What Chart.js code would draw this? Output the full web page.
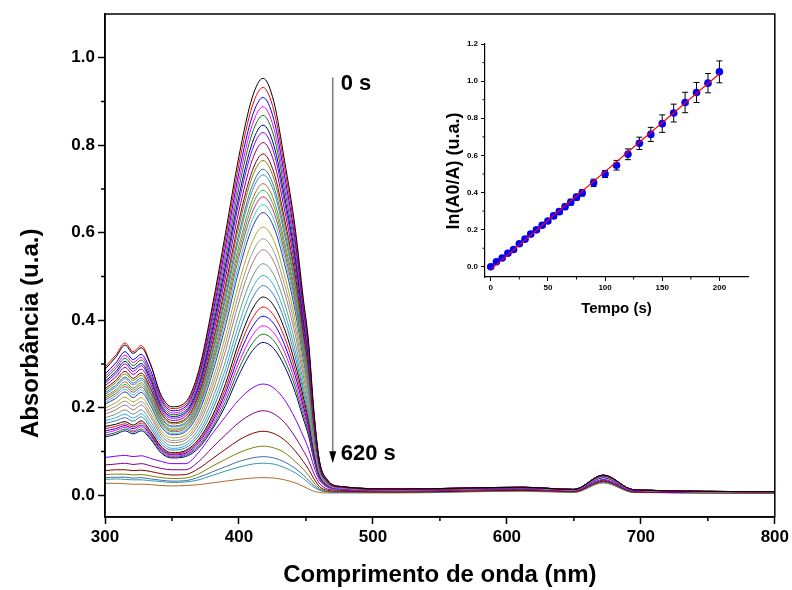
<!DOCTYPE html>
<html lang="pt">
<head>
<meta charset="UTF-8">
<title>Absorbância – cinética</title>
<script src="https://cdn.jsdelivr.net/npm/chart.js"></script>
<style>
  html, body { margin: 0; padding: 0; background: #fff; }
  #wrap { position: relative; width: 792px; height: 590px; }
  #mainChart { position: absolute; left: 0; top: 0; }
  #insetChart { position: absolute; left: 400px; top: 30px; }
</style>
</head>
<body>
<div id="wrap">
  <canvas id="mainChart" width="792" height="590"></canvas>
  <canvas id="insetChart" width="360" height="300"></canvas>
</div>
<script>
// comprimento de onda (nm) onde os espectros foram lidos
const wavelength = [300, 308, 315, 321, 327, 334, 342, 350, 360, 370, 380, 390, 400, 410, 418,
                    426, 434, 442, 448, 452, 456, 460, 466, 475, 520, 612, 650, 672, 695, 800];

// espectros, do 0 s (topo) ao 620 s (base)
const spectra = [
  [0.288,0.315,0.343,0.324,0.337,0.298,0.228,0.202,0.212,0.285,0.430,0.600,0.775,0.910,0.953,0.900,0.765,0.610,0.450,0.350,0.190,0.080,0.035,0.020,0.014,0.018,0.013,0.046,0.012,0.008],
  [0.293,0.320,0.348,0.328,0.342,0.300,0.223,0.198,0.207,0.278,0.420,0.586,0.757,0.890,0.932,0.880,0.749,0.597,0.441,0.342,0.186,0.079,0.035,0.020,0.014,0.018,0.013,0.046,0.012,0.008],
  [0.277,0.302,0.328,0.310,0.322,0.285,0.218,0.193,0.202,0.271,0.408,0.570,0.738,0.867,0.909,0.859,0.731,0.583,0.430,0.334,0.182,0.077,0.034,0.020,0.014,0.018,0.013,0.046,0.012,0.008],
  [0.271,0.295,0.320,0.303,0.315,0.278,0.213,0.188,0.198,0.265,0.398,0.555,0.720,0.847,0.888,0.839,0.715,0.570,0.421,0.327,0.178,0.076,0.033,0.019,0.014,0.018,0.013,0.045,0.012,0.008],
  [0.266,0.289,0.313,0.296,0.309,0.272,0.208,0.184,0.193,0.258,0.388,0.541,0.703,0.828,0.868,0.821,0.700,0.557,0.412,0.319,0.175,0.075,0.033,0.019,0.014,0.018,0.013,0.045,0.012,0.008],
  [0.260,0.282,0.306,0.289,0.301,0.266,0.203,0.180,0.189,0.251,0.377,0.526,0.684,0.806,0.846,0.800,0.683,0.544,0.402,0.312,0.171,0.073,0.032,0.019,0.014,0.018,0.013,0.045,0.012,0.008],
  [0.256,0.277,0.300,0.283,0.296,0.260,0.199,0.176,0.185,0.246,0.368,0.514,0.670,0.790,0.829,0.784,0.670,0.533,0.394,0.305,0.168,0.072,0.032,0.019,0.014,0.018,0.013,0.045,0.012,0.008],
  [0.250,0.270,0.292,0.276,0.288,0.253,0.194,0.171,0.180,0.239,0.357,0.499,0.650,0.767,0.806,0.763,0.652,0.519,0.384,0.297,0.164,0.071,0.031,0.019,0.013,0.017,0.013,0.045,0.012,0.008],
  [0.243,0.262,0.283,0.267,0.279,0.245,0.188,0.166,0.174,0.231,0.344,0.481,0.628,0.742,0.780,0.738,0.632,0.503,0.372,0.288,0.159,0.069,0.031,0.019,0.013,0.017,0.013,0.045,0.012,0.008],
  [0.239,0.257,0.277,0.262,0.274,0.241,0.184,0.163,0.171,0.226,0.336,0.470,0.615,0.728,0.765,0.724,0.620,0.493,0.365,0.282,0.156,0.068,0.030,0.018,0.013,0.017,0.013,0.044,0.012,0.008],
  [0.234,0.251,0.270,0.256,0.268,0.235,0.179,0.158,0.166,0.220,0.326,0.457,0.598,0.708,0.745,0.706,0.605,0.481,0.356,0.275,0.153,0.067,0.030,0.018,0.013,0.017,0.013,0.044,0.012,0.008],
  [0.230,0.247,0.266,0.252,0.263,0.231,0.176,0.156,0.163,0.216,0.320,0.448,0.587,0.696,0.732,0.694,0.595,0.473,0.351,0.270,0.150,0.066,0.030,0.018,0.013,0.017,0.013,0.044,0.012,0.008],
  [0.225,0.241,0.259,0.245,0.257,0.225,0.172,0.151,0.159,0.209,0.310,0.434,0.570,0.676,0.712,0.675,0.579,0.461,0.342,0.263,0.147,0.065,0.029,0.018,0.013,0.017,0.013,0.044,0.012,0.008],
  [0.221,0.237,0.253,0.240,0.252,0.220,0.168,0.148,0.156,0.205,0.302,0.423,0.557,0.662,0.697,0.661,0.568,0.451,0.335,0.258,0.144,0.064,0.029,0.018,0.013,0.017,0.012,0.044,0.012,0.008],
  [0.217,0.232,0.248,0.235,0.247,0.216,0.165,0.145,0.152,0.200,0.295,0.413,0.545,0.647,0.682,0.647,0.556,0.442,0.328,0.252,0.141,0.063,0.028,0.018,0.013,0.017,0.012,0.044,0.011,0.007],
  [0.212,0.227,0.242,0.229,0.241,0.210,0.160,0.141,0.148,0.194,0.286,0.401,0.529,0.630,0.664,0.630,0.543,0.431,0.320,0.246,0.138,0.062,0.028,0.018,0.013,0.017,0.012,0.044,0.011,0.007],
  [0.208,0.221,0.236,0.223,0.235,0.205,0.156,0.138,0.145,0.189,0.277,0.388,0.514,0.612,0.646,0.613,0.529,0.420,0.312,0.240,0.135,0.060,0.028,0.018,0.013,0.017,0.012,0.044,0.011,0.007],
  [0.199,0.211,0.224,0.213,0.223,0.195,0.148,0.131,0.137,0.178,0.260,0.365,0.486,0.580,0.613,0.582,0.503,0.399,0.297,0.228,0.129,0.058,0.027,0.017,0.013,0.017,0.012,0.043,0.011,0.007],
  [0.192,0.203,0.215,0.204,0.214,0.186,0.142,0.125,0.131,0.170,0.247,0.347,0.463,0.554,0.586,0.557,0.482,0.383,0.285,0.218,0.124,0.057,0.026,0.017,0.013,0.017,0.012,0.043,0.011,0.007],
  [0.185,0.195,0.206,0.195,0.206,0.179,0.136,0.120,0.126,0.162,0.234,0.330,0.442,0.530,0.561,0.534,0.463,0.367,0.274,0.209,0.119,0.055,0.026,0.017,0.012,0.016,0.012,0.043,0.011,0.007],
  [0.177,0.185,0.195,0.185,0.195,0.169,0.129,0.113,0.119,0.152,0.218,0.307,0.415,0.499,0.529,0.504,0.439,0.347,0.259,0.197,0.114,0.053,0.025,0.017,0.012,0.016,0.012,0.043,0.011,0.007],
  [0.170,0.177,0.185,0.176,0.186,0.161,0.123,0.107,0.113,0.143,0.205,0.289,0.392,0.473,0.502,0.479,0.418,0.330,0.247,0.188,0.109,0.051,0.024,0.016,0.012,0.016,0.012,0.042,0.011,0.007],
  [0.164,0.170,0.177,0.169,0.179,0.154,0.117,0.103,0.108,0.136,0.193,0.273,0.372,0.450,0.479,0.457,0.400,0.316,0.237,0.179,0.105,0.050,0.024,0.016,0.012,0.016,0.012,0.042,0.011,0.007],
  [0.157,0.162,0.168,0.160,0.170,0.146,0.111,0.097,0.102,0.128,0.180,0.255,0.350,0.425,0.453,0.433,0.380,0.300,0.225,0.170,0.100,0.048,0.023,0.016,0.012,0.016,0.012,0.042,0.011,0.007],
  [0.152,0.157,0.163,0.156,0.165,0.142,0.108,0.094,0.099,0.124,0.173,0.244,0.334,0.404,0.430,0.411,0.361,0.286,0.214,0.162,0.096,0.046,0.022,0.016,0.012,0.016,0.012,0.042,0.011,0.007],
  [0.147,0.152,0.159,0.152,0.160,0.138,0.105,0.092,0.096,0.120,0.167,0.234,0.319,0.385,0.409,0.392,0.344,0.273,0.204,0.155,0.092,0.045,0.022,0.016,0.012,0.016,0.012,0.041,0.011,0.007],
  [0.142,0.148,0.155,0.147,0.156,0.135,0.102,0.089,0.093,0.115,0.161,0.224,0.303,0.365,0.387,0.371,0.327,0.259,0.194,0.148,0.087,0.043,0.021,0.015,0.011,0.015,0.011,0.041,0.010,0.007],
  [0.137,0.143,0.151,0.144,0.151,0.131,0.099,0.087,0.091,0.112,0.155,0.214,0.289,0.347,0.368,0.353,0.310,0.247,0.184,0.141,0.084,0.041,0.021,0.015,0.011,0.015,0.011,0.040,0.010,0.007],
  [0.133,0.139,0.147,0.140,0.147,0.128,0.096,0.085,0.088,0.108,0.150,0.205,0.275,0.330,0.349,0.335,0.295,0.235,0.175,0.135,0.080,0.040,0.020,0.015,0.011,0.015,0.011,0.040,0.010,0.007],
  [0.086,0.089,0.091,0.088,0.090,0.084,0.077,0.072,0.072,0.098,0.140,0.180,0.218,0.245,0.254,0.245,0.218,0.175,0.135,0.105,0.065,0.035,0.018,0.013,0.010,0.014,0.010,0.036,0.009,0.006],
  [0.069,0.071,0.073,0.070,0.072,0.067,0.061,0.058,0.058,0.077,0.108,0.138,0.166,0.186,0.193,0.186,0.166,0.133,0.102,0.079,0.049,0.027,0.014,0.011,0.009,0.013,0.009,0.034,0.008,0.006],
  [0.056,0.058,0.058,0.056,0.057,0.054,0.049,0.046,0.047,0.061,0.083,0.105,0.126,0.141,0.146,0.141,0.126,0.101,0.077,0.059,0.037,0.020,0.011,0.009,0.007,0.011,0.008,0.032,0.007,0.005],
  [0.047,0.048,0.048,0.046,0.047,0.044,0.040,0.038,0.039,0.049,0.066,0.082,0.097,0.108,0.112,0.108,0.097,0.077,0.059,0.045,0.028,0.016,0.009,0.008,0.007,0.011,0.007,0.031,0.007,0.005],
  [0.040,0.041,0.041,0.039,0.040,0.037,0.034,0.032,0.033,0.041,0.053,0.065,0.077,0.085,0.088,0.085,0.076,0.061,0.046,0.034,0.022,0.013,0.008,0.007,0.006,0.010,0.007,0.030,0.007,0.005],
  [0.036,0.037,0.036,0.035,0.035,0.033,0.031,0.029,0.030,0.035,0.045,0.055,0.064,0.071,0.073,0.071,0.063,0.051,0.038,0.028,0.018,0.011,0.007,0.006,0.006,0.010,0.007,0.029,0.006,0.005],
  [0.027,0.027,0.026,0.025,0.025,0.024,0.022,0.021,0.022,0.024,0.028,0.032,0.036,0.039,0.040,0.039,0.035,0.028,0.020,0.014,0.009,0.006,0.005,0.005,0.005,0.009,0.006,0.028,0.006,0.005]
];

// paleta tipo Origin (repete depois da 23a curva)
const palette = ['#000000','#ff0000','#0000ff','#ff00ff','#008000','#000080','#8000ff','#800080',
                 '#800000','#808000','#3f6fa8','#3399aa','#b06a2a','#22bb44','#cc3366','#33cccc',
                 '#3333aa','#aaaa22','#999988','#aa7777','#669977','#33aadd','#4477aa'];

const xTicksMain = [300, 400, 500, 600, 700, 800];
const xMinorMain = [350, 450, 550, 650, 750];
const yTicksMain = [0, 0.2, 0.4, 0.6, 0.8, 1.0];
const yMinorMain = [0.1, 0.3, 0.5, 0.7, 0.9];

// seta 0 s -> 620 s
const arrowWave = 470;
const arrowTop = 0.955;
const arrowTip = 0.073;

// inset: ln(A0/A) x tempo
const tempo  = [0, 5, 10, 15, 20, 25, 30, 35, 40, 45, 50, 55, 60, 65, 70, 75, 80,
                90, 100, 110, 120, 130, 140, 150, 160, 170, 180, 190, 200];
const lnA0A  = [0, 0.027, 0.047, 0.073, 0.093, 0.124, 0.149, 0.176, 0.199, 0.224, 0.247, 0.274, 0.297,
                0.323, 0.348, 0.375, 0.398, 0.452, 0.500, 0.547, 0.606, 0.665, 0.713, 0.771, 0.828,
                0.885, 0.939, 0.989, 1.050];
const lnErr  = [0.004, 0.008, 0.008, 0.010, 0.010, 0.010, 0.011, 0.012, 0.012, 0.013, 0.013, 0.014, 0.014,
                0.015, 0.016, 0.016, 0.017, 0.020, 0.019, 0.026, 0.029, 0.033, 0.038, 0.047, 0.048,
                0.055, 0.054, 0.052, 0.059];
const fitTempo = [0, 200];
const fitLn    = [-0.014, 1.040];

const xTicksIn = [0, 50, 100, 150, 200];
const xMinorIn = [25, 75, 125, 175];
const yTicksIn = [0, 0.2, 0.4, 0.6, 0.8, 1.0, 1.2];
const yMinorIn = [0.1, 0.3, 0.5, 0.7, 0.9, 1.1];

const FONT = "'Liberation Sans', Arial, sans-serif";
Chart.defaults.font.family = FONT;
Chart.defaults.color = '#000';

const mainExtras = {
  id: 'mainExtras',
  afterDatasetsDraw(chart) {
    const { ctx, chartArea: a, scales: { x, y } } = chart;
    ctx.save();
    // moldura
    ctx.strokeStyle = '#000';
    ctx.lineWidth = 1.5;
    ctx.strokeRect(a.left, a.top, a.right - a.left, a.bottom - a.top);
    // ticks menores
    ctx.beginPath();
    xMinorMain.forEach(v => {
      const px = x.getPixelForValue(v);
      ctx.moveTo(px, a.bottom); ctx.lineTo(px, a.bottom + 4);
    });
    yMinorMain.forEach(v => {
      const py = y.getPixelForValue(v);
      ctx.moveTo(a.left, py); ctx.lineTo(a.left - 4, py);
    });
    ctx.stroke();

    // seta
    const ax = x.getPixelForValue(arrowWave);
    const y0 = y.getPixelForValue(arrowTop);
    const y1 = y.getPixelForValue(arrowTip);
    ctx.strokeStyle = '#808080';
    ctx.lineWidth = 1.6;
    ctx.beginPath();
    ctx.moveTo(ax, y0); ctx.lineTo(ax, y1 - 10);
    ctx.stroke();
    ctx.fillStyle = '#000';
    ctx.beginPath();
    ctx.moveTo(ax - 3.5, y1 - 12); ctx.lineTo(ax + 3.5, y1 - 12); ctx.lineTo(ax, y1);
    ctx.closePath();
    ctx.fill();

    ctx.font = "bold 22px " + FONT;
    ctx.textBaseline = 'middle';
    ctx.textAlign = 'left';
    ctx.fillText('0 s', x.getPixelForValue(476), y.getPixelForValue(0.94));
    ctx.fillText('620 s', x.getPixelForValue(476), y.getPixelForValue(0.094));

    // título do eixo y: no original fica abaixo do centro do eixo
    ctx.font = "bold 24px " + FONT;
    ctx.textAlign = 'center';
    ctx.translate(31, y.getPixelForValue(0.37));
    ctx.rotate(-Math.PI / 2);
    ctx.fillText('Absorbância (u.a.)', 0, 0);
    ctx.restore();
  }
};

new Chart(document.getElementById('mainChart'), {
  type: 'line',
  data: {
    datasets: spectra.map((s, i) => ({
      data: s.map((v, k) => ({ x: wavelength[k], y: v })),
      borderColor: palette[i % palette.length],
      borderWidth: 1,
      pointRadius: 0,
      cubicInterpolationMode: 'monotone',
      fill: false
    }))
  },
  options: {
    responsive: false,
    animation: false,
    devicePixelRatio: 1,
    layout: { padding: { top: 14, right: 16, left: 0, bottom: 0 } },
    plugins: { legend: { display: false }, tooltip: { enabled: false } },
    scales: {
      x: {
        type: 'linear', min: 300, max: 800,
        afterBuildTicks: s => { s.ticks = xTicksMain.map(v => ({ value: v })); },
        afterFit: s => { s.height = 73; },
        ticks: { autoSkip: false, maxRotation: 0, padding: 3, font: { size: 17, weight: 'bold' }, callback: v => String(v) },
        grid: { drawOnChartArea: false, tickLength: 7, tickWidth: 1.5, tickColor: '#000' },
        border: { display: true, color: '#000', width: 1.5 },
        title: { display: true, text: 'Comprimento de onda (nm)', font: { size: 24, weight: 'bold' }, padding: { top: 0, bottom: 0 } }
      },
      y: {
        type: 'linear', min: -0.05, max: 1.1,
        afterBuildTicks: s => { s.ticks = yTicksMain.map(v => ({ value: v })); },
        afterFit: s => { s.width = 105; },
        ticks: { padding: 3, font: { size: 17, weight: 'bold' }, callback: v => v.toFixed(1) },
        grid: { drawOnChartArea: false, tickLength: 7, tickWidth: 1.5, tickColor: '#000' },
        border: { display: true, color: '#000', width: 1.5 },
        title: { display: false }
      }
    }
  },
  plugins: [mainExtras]
});

const insetExtras = {
  id: 'insetExtras',
  beforeDatasetsDraw(chart) {
    const { ctx, scales: { x, y } } = chart;
    ctx.save();
    ctx.strokeStyle = '#000';
    ctx.lineWidth = 1;
    ctx.beginPath();
    tempo.forEach((t, i) => {
      const px = x.getPixelForValue(t);
      const top = y.getPixelForValue(lnA0A[i] + lnErr[i]);
      const bot = y.getPixelForValue(lnA0A[i] - lnErr[i]);
      ctx.moveTo(px, top); ctx.lineTo(px, bot);
      ctx.moveTo(px - 3, top); ctx.lineTo(px + 3, top);
      ctx.moveTo(px - 3, bot); ctx.lineTo(px + 3, bot);
    });
    ctx.stroke();
    ctx.restore();
  },
  afterDraw(chart) {
    const { ctx, chartArea: a, scales: { x, y } } = chart;
    ctx.save();
    ctx.strokeStyle = '#000';
    ctx.lineWidth = 1;
    ctx.beginPath();
    xMinorIn.forEach(v => {
      const px = x.getPixelForValue(v);
      ctx.moveTo(px, a.bottom); ctx.lineTo(px, a.bottom + 2.5);
    });
    yMinorIn.forEach(v => {
      const py = y.getPixelForValue(v);
      ctx.moveTo(a.left, py); ctx.lineTo(a.left - 2.5, py);
    });
    ctx.stroke();

    // título do eixo y do inset, um pouco abaixo do centro como no original
    ctx.font = "bold 18px " + FONT;
    ctx.textAlign = 'center';
    ctx.textBaseline = 'middle';
    ctx.translate(54, 141);
    ctx.rotate(-Math.PI / 2);
    ctx.fillText('ln(A0/A) (u.a.)', 0, 0);
    ctx.restore();
  }
};

new Chart(document.getElementById('insetChart'), {
  type: 'scatter',
  data: {
    datasets: [
      {
        type: 'line',
        data: fitTempo.map((t, i) => ({ x: t, y: fitLn[i] })),
        borderColor: '#ff0000',
        borderWidth: 1.2,
        pointRadius: 0,
        order: 0
      },
      {
        data: tempo.map((t, i) => ({ x: t, y: lnA0A[i] })),
        backgroundColor: '#0000ff',
        borderColor: '#0000ff',
        borderWidth: 0,
        pointRadius: 3.8,
        order: 1
      }
    ]
  },
  options: {
    responsive: false,
    animation: false,
    devicePixelRatio: 1,
    layout: { padding: { top: 14, right: 12, left: 0, bottom: 0 } },
    plugins: { legend: { display: false }, tooltip: { enabled: false } },
    scales: {
      x: {
        type: 'linear', min: -5, max: 225,
        afterBuildTicks: s => { s.ticks = xTicksIn.map(v => ({ value: v })); },
        afterFit: s => { s.height = 53; },
        ticks: { autoSkip: false, maxRotation: 0, padding: 2, font: { size: 8, weight: 'bold' }, callback: v => String(v) },
        grid: { drawOnChartArea: false, tickLength: 4, tickWidth: 1, tickColor: '#000' },
        border: { display: true, color: '#000', width: 1.2 },
        title: { display: true, text: 'Tempo (s)', font: { size: 15, weight: 'bold' }, padding: { top: 0, bottom: 12 } }
      },
      y: {
        type: 'linear', min: -0.055, max: 1.2,
        afterBuildTicks: s => { s.ticks = yTicksIn.map(v => ({ value: v })); },
        afterFit: s => { s.width = 85; },
        ticks: { padding: 3, font: { size: 8, weight: 'bold' }, callback: v => v.toFixed(1) },
        grid: { drawOnChartArea: false, tickLength: 4, tickWidth: 1, tickColor: '#000' },
        border: { display: true, color: '#000', width: 1.2 },
        title: { display: false }
      }
    }
  },
  plugins: [insetExtras]
});
</script>
</body>
</html>
